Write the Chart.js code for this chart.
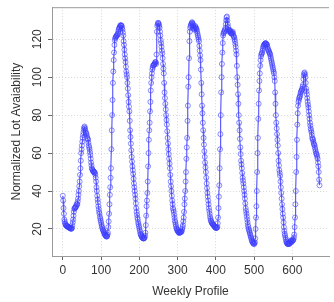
<!DOCTYPE html>
<html>
<head>
<meta charset="utf-8">
<title>Weekly Profile</title>
<script src="https://cdn.jsdelivr.net/npm/chart.js@4.4.1/dist/chart.umd.min.js"></script>
<style>
  html, body { margin: 0; padding: 0; background: #fff; overflow: hidden; }
  #profile { display: block; }
</style>
</head>
<body>
<canvas id="profile" width="334" height="302"></canvas>
<script>
// Normalized lot availability, one reading per step over the week (steps 0..671)
const availability = [
  37.5, 35, 31, 28, 25, 24, 23, 22.5, 22, 21.8,
  21.5, 21.6, 21.5, 21.2, 21, 21, 20.8, 20.6, 20.5, 20.6,
  20.5, 20.2, 20, 20.3, 20.5, 22, 23.5, 25, 27, 29,
  30.5, 31, 31, 31.5, 31.5, 32, 33, 33, 33, 34.5,
  36, 38, 40, 42.5, 45, 48.5, 52, 56, 60, 62,
  64, 66, 68, 69.5, 71, 72.5, 73.5, 74, 73, 72,
  71, 70.5, 70, 69, 68, 67.5, 67, 65.5, 64, 63,
  62, 60.5, 59, 57, 55, 53.5, 52, 51.5, 51, 50.5,
  50.5, 50, 50, 49.8, 49.5, 48.5, 47, 45, 42, 40,
  37.5, 35.5, 34, 32, 30.5, 29, 28, 26.5, 25.5, 24.5,
  23.5, 22.5, 21.5, 20.8, 20, 19.5, 19, 18.5, 18, 17.5,
  17, 16.8, 16.5, 16.2, 16, 16, 16.3, 17, 18, 21,
  24, 28, 33, 38, 42, 47, 52, 62, 72, 80,
  88, 97, 103, 109, 113, 117, 119.5, 120.5, 121, 121.5,
  121.5, 122, 122, 122.5, 123, 124, 125, 125.5, 126, 126.5,
  127, 127.3, 127.5, 127.2, 127, 126, 125, 123.5, 122, 119,
  117, 114.5, 112, 110, 108, 105.5, 103, 101.5, 100, 97,
  94, 90.5, 87, 84.5, 82, 77, 72, 68.5, 65, 61.5,
  58, 55.5, 53, 51, 49, 46.5, 44, 42, 40, 38,
  36, 33.5, 31, 29, 27.5, 26, 25, 23.5, 22.5, 21.5,
  20.5, 19.5, 18.5, 17.5, 17, 16.5, 16, 15.8, 15.5, 15.2,
  15, 15, 15, 15.2, 15.5, 16.5, 18, 22, 27, 32,
  35, 39, 45, 53, 60, 67, 72, 76, 82, 87,
  93, 97, 100, 102, 104, 105, 106, 106.3, 106.5, 106.8,
  107, 107.5, 108, 108, 107, 112, 124, 127, 128, 128.7,
  128.5, 128, 127, 126, 124, 122, 119.5, 118, 116, 114,
  112.5, 110, 107, 104.5, 102, 97, 92, 89, 86, 83,
  80, 77.5, 75, 71.5, 68, 65, 62, 59.5, 57, 54.5,
  52, 48.5, 45, 42.5, 40, 37.5, 35, 33, 31, 30,
  29, 27.5, 26, 24.5, 23.5, 22.5, 21.5, 20.5, 20, 19.5,
  19, 18.8, 18.5, 18.2, 18, 18, 18, 18.2, 18.5, 18.5,
  18.5, 19, 20, 21, 22, 24, 26, 29, 33, 36,
  40, 45, 50, 57, 63, 68, 77, 85, 95, 100,
  110, 119, 124, 126, 127, 127.5, 128, 128.5, 129, 128.5,
  128, 127, 126, 125.5, 125, 126, 127, 126.5, 126, 125.5,
  125, 124, 123, 122, 121, 120, 119, 116.5, 114, 111.5,
  109, 104, 97, 91, 85, 81, 76, 72, 68, 64.5,
  61, 58, 55, 52.5, 50, 47, 44, 41.5, 39, 37,
  35, 33, 31, 29.5, 28, 26.5, 25.5, 24.5, 24, 23.5,
  23, 22.8, 22.5, 22.2, 22, 21.8, 21.5, 21.2, 21, 20.8,
  20.5, 20.5, 20.5, 20.8, 21, 23, 26, 31, 37, 43,
  52, 62, 70, 80, 92, 100, 107, 113, 118, 122,
  123, 123.5, 124, 124.5, 125, 126, 128, 130, 131.5, 132,
  130, 128, 126.5, 125, 124, 124.5, 125, 124.5, 124, 123.5,
  123, 123, 123, 123.5, 124, 123, 122, 121.5, 121, 120,
  119, 117.5, 116, 114, 112, 106, 100, 96, 91, 86,
  80, 76, 72, 67.5, 63, 59.5, 56, 54, 52, 49.5,
  47, 45.5, 44, 42, 40, 38, 36, 33.5, 31, 29.5,
  28, 26.5, 25, 23.5, 22, 21, 20, 19.2, 18.5, 17.8,
  17, 16.2, 15.5, 14.8, 14, 13.5, 13, 12.8, 12.5, 12.2,
  12, 12.5, 13, 15, 20, 26, 32, 40, 50, 60,
  68, 78, 86, 93, 98, 102, 106, 109, 111, 112,
  112.5, 113, 114, 115, 116, 116.5, 117, 117.3, 117.5, 117.8,
  118, 117.8, 117.5, 117.2, 117, 116, 115, 114.5, 114, 113.5,
  113, 112.5, 112, 111, 110, 109, 108, 107, 106, 105,
  104, 103, 102, 100, 98, 92, 86, 80, 76, 73,
  70, 67, 64, 60, 56, 53.5, 51, 49.5, 48, 45,
  42, 39, 36, 33, 30.5, 28, 26, 23.5, 21, 19,
  17.5, 16.5, 15.5, 14.5, 13.5, 13, 12.5, 12.2, 12, 12.2,
  12.5, 12.2, 12, 12.5, 13, 13.5, 14, 13.5, 13, 13.5,
  14, 14, 14, 14.5, 15.5, 17, 21, 26, 33, 40,
  50, 58, 67, 75, 81, 85, 87, 88, 89, 89.5,
  90, 91, 92, 92.5, 93, 93.5, 94, 95, 96, 99,
  101, 102, 102.5, 101.5, 100, 97, 94, 92.5, 91, 89,
  87, 85.5, 84, 82, 80, 78, 76, 74.5, 73, 72,
  71, 69.5, 68, 67.5, 67, 66, 65, 64.5, 64, 63,
  62, 61, 60, 59.5, 59, 58, 57, 55, 53, 50,
  46, 43
];

// Tick labels on the axes
const xTicks = [0, 100, 200, 300, 400, 500, 600];
const yTicks = [20, 40, 60, 80, 100, 120];

const xTitle = 'Weekly Profile';
const yTitle = 'Normalized Lot Avaiability';

// Points as (step, value)
const points = availability.map((v, i) => ({ x: i, y: v }));

const textColor = '#333';
const boxColor = '#9a9a9a';
const gridColor = '#d8d8d8';

// Draw the top edge of the plot box
const boxPlugin = {
  id: 'plotBox',
  afterDraw(chart) {
    const { ctx, chartArea } = chart;
    ctx.save();
    ctx.strokeStyle = boxColor;
    ctx.lineWidth = 1;
    ctx.beginPath();
    ctx.moveTo(chartArea.left, chartArea.top + 0.5);
    ctx.lineTo(chartArea.right, chartArea.top + 0.5);
    ctx.stroke();
    ctx.restore();
  }
};

new Chart(document.getElementById('profile'), {
  type: 'line',
  data: {
    datasets: [{
      data: points,
      borderColor: 'rgba(40, 40, 255, 0.75)',
      borderWidth: 1.2,
      pointRadius: 2.5,
      pointBorderWidth: 1,
      pointBorderColor: 'rgba(60, 60, 255, 0.6)',
      pointBackgroundColor: 'rgba(0, 0, 0, 0)',
      tension: 0
    }]
  },
  options: {
    responsive: false,
    animation: false,
    layout: { padding: { top: 5, right: 0, bottom: 0, left: 0 } },
    plugins: {
      legend: { display: false },
      tooltip: { enabled: false }
    },
    scales: {
      x: {
        type: 'linear',
        min: -28.2,
        max: 695.8,
        afterBuildTicks: scale => { scale.ticks = xTicks.map(v => ({ value: v })); },
        afterFit: scale => { scale.height = 46; },
        grid: {
          color: gridColor,
          tickColor: '#666',
          tickLength: 4,
          tickBorderDash: []
        },
        border: { display: true, color: boxColor, width: 1, dash: [1, 2] },
        ticks: {
          color: textColor,
          padding: 3,
          maxRotation: 0,
          font: { family: 'Liberation Sans', size: 12 }
        },
        title: {
          display: true,
          text: xTitle,
          color: textColor,
          padding: { top: 0, bottom: 3 },
          font: { family: 'Liberation Sans', size: 12 }
        }
      },
      y: {
        type: 'linear',
        min: 5.75,
        max: 136.9,
        afterBuildTicks: scale => { scale.ticks = yTicks.map(v => ({ value: v })); },
        afterFit: scale => { scale.width = 52; },
        grid: {
          color: gridColor,
          tickColor: '#666',
          tickLength: 4,
          tickBorderDash: []
        },
        border: { display: true, color: boxColor, width: 1, dash: [1, 2] },
        ticks: {
          color: textColor,
          padding: 0,
          minRotation: 90,
          maxRotation: 90,
          crossAlign: 'center',
          font: { family: 'Liberation Sans', size: 12 }
        },
        title: {
          display: true,
          text: yTitle,
          color: textColor,
          padding: { top: 9, bottom: 0 },
          font: { family: 'Liberation Sans', size: 12 }
        }
      }
    }
  },
  plugins: [boxPlugin]
});
</script>
</body>
</html>
